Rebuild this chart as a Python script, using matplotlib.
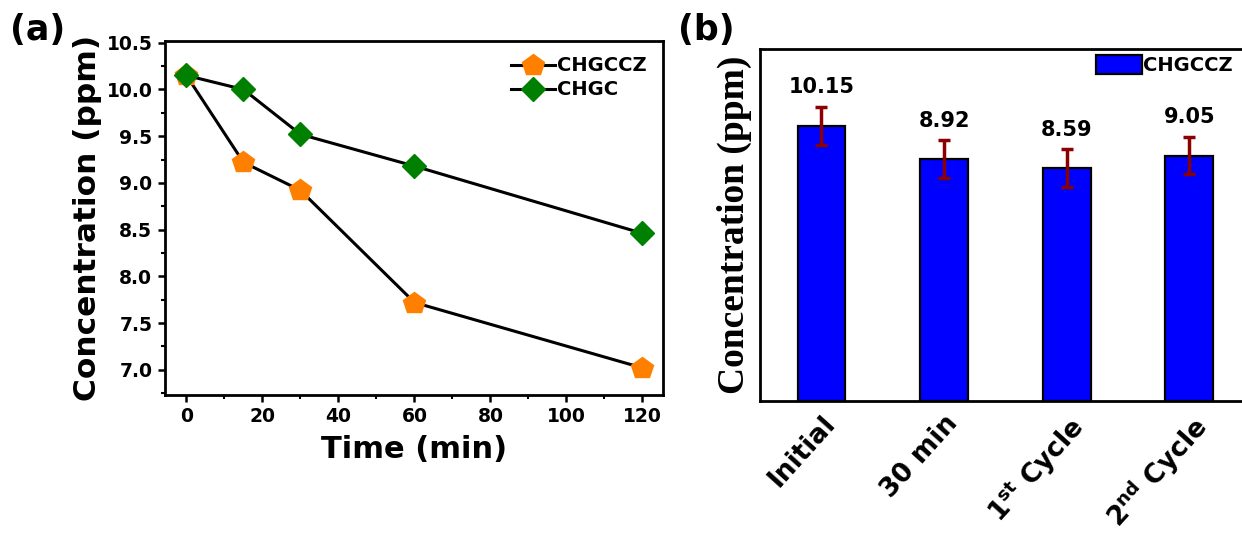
import matplotlib
matplotlib.use("Agg")
import matplotlib.pyplot as plt
from matplotlib.ticker import MultipleLocator
import numpy as np

# ---- data ----
time_min = [0, 15, 30, 60, 120]
chgccz = [10.15, 9.22, 8.92, 7.72, 7.02]
chgc = [10.15, 10.00, 9.52, 9.18, 8.46]

bar_labels = ["Initial", "30 min", r"$\mathbf{1^{st}}$ Cycle", r"$\mathbf{2^{nd}}$ Cycle"]
bar_values = [10.15, 8.92, 8.59, 9.05]
bar_errors = [0.70, 0.69, 0.69, 0.69]

plt.rcParams['font.family'] = ['DejaVu Sans']
plt.rcParams['font.weight'] = 'bold'
plt.rcParams['mathtext.fontset'] = 'dejavusans'

fig = plt.figure(figsize=(12.42, 5.34), dpi=100)

# ---- panel (a) ----
ax1 = fig.add_axes([0.1327, 0.2603, 0.4008, 0.6631])
ax1.plot(time_min, chgccz, color='black', lw=2.2, marker='p', ms=16,
         mfc='#FF8000', mec='#FF8000', label='CHGCCZ', zorder=3)
ax1.plot(time_min, chgc, color='black', lw=2.2, marker='D', ms=12,
         mfc='#008000', mec='#008000', label='CHGC', zorder=3)
ax1.set_xlim(-5.7, 125.3)
ax1.set_ylim(6.73, 10.52)
ax1.xaxis.set_major_locator(MultipleLocator(20))
ax1.xaxis.set_minor_locator(MultipleLocator(10))
ax1.yaxis.set_major_locator(MultipleLocator(0.5))
ax1.yaxis.set_minor_locator(MultipleLocator(0.25))
ax1.yaxis.set_major_formatter(matplotlib.ticker.FormatStrFormatter('%.1f'))
ax1.tick_params(which='major', direction='out', length=5, width=1.8, labelsize=13.5, pad=4)
ax1.tick_params(which='minor', direction='out', length=3, width=1.5)
for lab in ax1.get_xticklabels() + ax1.get_yticklabels():
    lab.set_fontweight('bold')
for s in ax1.spines.values():
    s.set_linewidth(2)
ax1.set_xlabel('Time (min)', fontsize=22, fontweight='bold', labelpad=6)
ax1.set_ylabel('Concentration (ppm)', fontsize=22.5, fontweight='bold', labelpad=3)
leg1 = ax1.legend(loc='upper right', frameon=False, fontsize=14, handlelength=2.3,
                  handletextpad=0.1, labelspacing=0.25, borderaxespad=0.4)
fig.text(0.008, 0.975, '(a)', fontsize=25, fontweight='bold', va='top', ha='left')

# ---- panel (b) ----
ax2 = fig.add_axes([0.612, 0.249, 0.395, 0.660])
x = np.arange(len(bar_values))
ax2.bar(x, bar_values, width=0.39, color='#0000FF', edgecolor='black', linewidth=1.6,
        label='CHGCCZ', zorder=2)
ax2.errorbar(x, bar_values, yerr=bar_errors, fmt='none', ecolor='#8B0000',
             elinewidth=2.5, capsize=4, capthick=2.5, zorder=3)
for xi, v, e in zip(x, bar_values, bar_errors):
    ax2.annotate(f'{v:.2f}', (xi, v + e), xytext=(0, 7), textcoords='offset points',
                 ha='center', va='bottom', fontsize=15, fontweight='bold')
ax2.set_xlim(-0.5, 3.5)
ax2.set_ylim(0, 13.0)
ax2.set_yticks([])
ax2.set_xticks(x)
ax2.set_xticklabels(bar_labels, rotation=48, ha='right', va='top', rotation_mode='anchor',
                    fontsize=19, fontweight='bold')
ax2.tick_params(axis='x', length=0, pad=7)
for s in ax2.spines.values():
    s.set_linewidth(2)
ax2.spines['right'].set_visible(False)
ax2.set_ylabel('Concentration (ppm)', fontsize=27, fontweight='bold',
               family='Liberation Serif', labelpad=6)
ax2.legend(loc='upper right', frameon=False, fontsize=14, handlelength=2.4,
           handleheight=1.1, handletextpad=0.05, borderaxespad=0.1, borderpad=0.25,
           bbox_to_anchor=(0.978, 1.0))
fig.text(0.546, 0.975, '(b)', fontsize=25, fontweight='bold', va='top', ha='left')

fig.savefig('out.png', dpi=100)
